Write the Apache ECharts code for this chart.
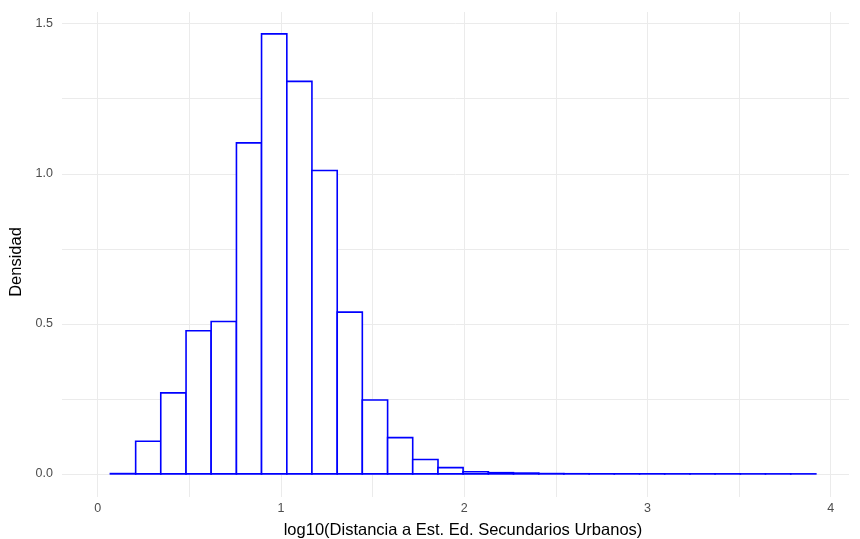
<!DOCTYPE html>
<html>
<head>
<meta charset="utf-8">
<script src="https://cdn.jsdelivr.net/npm/echarts@6/dist/echarts.min.js"></script>
<style>
	html, body { margin: 0; padding: 0; background: #fff; }
	#chart { width: 860px; height: 539px; }
</style>
</head>
<body>
<div id="chart"></div>
<script>
// bin edges (log10 distance) and density per bin
var binEdges = [0.069, 0.207, 0.344, 0.482, 0.619, 0.757, 0.894, 1.032, 1.169, 1.307,
	1.444, 1.582, 1.719, 1.857, 1.994, 2.132, 2.269, 2.407, 2.544, 2.682,
	2.819, 2.957, 3.094, 3.232, 3.369, 3.507, 3.644, 3.782, 3.919];
var density = [0.001, 0.109, 0.270, 0.477, 0.508, 1.103, 1.466, 1.308, 1.011, 0.539,
	0.246, 0.121, 0.048, 0.021, 0.0073, 0.004, 0.0027, 0.001, 0.0005, 0.0004,
	0.0003, 0.0003, 0.0002, 0.0002, 0.0002, 0.0001, 0.0001, 0.0001];
var xLabels = [0, 1, 2, 3, 4];
var xGrid = [0, 0.5, 1, 1.5, 2, 2.5, 3, 3.5, 4];
var yLabels = [0, 0.5, 1, 1.5];
var yGrid = [0, 0.25, 0.5, 0.75, 1, 1.25, 1.5];

function histogram() {
	var myChart = echarts.init(document.getElementById('chart'));
	var bins = [];
	for (var i = 0; i < density.length; i++) {
		bins.push([binEdges[i], binEdges[i + 1], density[i]]);
	}
	var font = '"Liberation Sans", Arial, sans-serif';
	option = {
		animation: false,
		backgroundColor: '#fff',
		grid: {
			left: 62,
			right: 11,
			top: 12,
			bottom: 42,
			outerBoundsMode: 'none'
		},
		xAxis: {
			type: 'value',
			min: -0.195,
			max: 4.1,
			name: 'log10(Distancia a Est. Ed. Secundarios Urbanos)',
			nameLocation: 'middle',
			nameGap: 25,
			nameTextStyle: {
				fontFamily: font,
				fontSize: 16.5,
				color: '#000',
				padding: [0, 0, 0, 15]
			},
			axisLine: { show: false },
			axisTick: { show: false, customValues: xGrid },
			axisLabel: {
				customValues: xLabels,
				fontFamily: font,
				fontSize: 12.5,
				color: '#4d4d4d',
				margin: 5
			},
			splitLine: {
				show: true,
				lineStyle: { color: '#ebebeb', width: 1 }
			}
		},
		yAxis: {
			type: 'value',
			min: -0.077,
			max: 1.539,
			name: 'Densidad',
			nameLocation: 'middle',
			nameGap: 31,
			nameRotate: 90,
			nameTextStyle: {
				fontFamily: font,
				fontSize: 16.5,
				color: '#000',
				padding: [0, 15, 0, 0]
			},
			axisLine: { show: false },
			axisTick: { show: false, customValues: yGrid },
			axisLabel: {
				customValues: yLabels,
				formatter: function (v) { return v.toFixed(1); },
				fontFamily: font,
				fontSize: 12.5,
				color: '#4d4d4d',
				margin: 9
			},
			splitLine: {
				show: true,
				lineStyle: { color: '#ebebeb', width: 1 }
			}
		},
		series: [{
			type: 'custom',
			data: bins,
			encode: { x: [0, 1], y: 2 },
			renderItem: function (params, api) {
				var p0 = api.coord([api.value(0), 0]);
				var p1 = api.coord([api.value(1), api.value(2)]);
				return {
					type: 'rect',
					shape: {
						x: p0[0],
						y: p1[1],
						width: p1[0] - p0[0],
						height: p0[1] - p1[1]
					},
					style: {
						fill: '#ffffff',
						stroke: '#0000ff',
						lineWidth: 1.6
					}
				};
			}
		}]
	};
	myChart.setOption(option);
}
histogram();
</script>
</body>
</html>
